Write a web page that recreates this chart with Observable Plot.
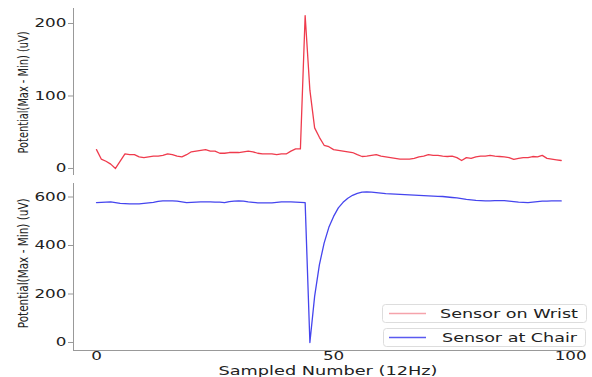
<!DOCTYPE html>
<html><head><meta charset="utf-8">
<script src="https://cdn.jsdelivr.net/npm/d3@7"></script>
<script src="https://cdn.jsdelivr.net/npm/@observablehq/plot@0.6"></script>
<style>
body{margin:0;background:#fff;}
#wrap{position:relative;width:592px;height:377px;background:#fff;}
#wrap svg{display:block;}
</style></head><body><div id="wrap"></div>
<script>
const wristValues = [26,13,10,6,0,10,20,19,19,16,15,16,17,17,18,20,19,17,16,19,
  23,24,25,26,24,24,21,21,22,22,22,23,24,23,21,20,20,20,19,20,
  20,24,27,27,211,108,56,43,32,30,26,25,24,23,22,19,16.5,17,18,19,
  17,16,15,14,13,13,13,14,16,17,19,18,18,17,16.5,17,15,11,15,14,
  16,17,17,18,17,16.5,16,15,12.5,14,15,15,16.5,16,18,14,13,12,11];
const chairValues = [577,578,579,580,577,574,573,572,572,572,574,576,578,582,584,584,584,583,580,577,
  578,579,580,580,580,579,579,577,581,583,584,583,580,578,576,576,576,576,578,580,
  580,580,579,578,577,0,190,320,410,475,520,555,578,595,607,615,620,621,620,618,
  616,614,613,612,611,610,609,608,607,606,605,604,603,602,600,598,596,593,590,588,
  586,585,584,584,585,585,585,583,581,579,578,577,579,581,583,583,584,584,584];
const wristTicks = [0,100,200];
const chairTicks = [0,200,400,600];
const xTicks = [0,50,100];
const seriesNames = ["Sensor on Wrist","Sensor at Chair"];
const seriesColors = ["#ef3b4d","#4545ee"];
const legendColors = ["#f5a3ab","#5a5af0"];
const xLabel = "Sampled Number (12Hz)";
const yLabel = "Potential(Max - Min) (uV)";

const xDomain = [-4.85, 102.7];
const common = {
  width: 592, marginLeft: 73, marginRight: 9,
  style: {fontFamily: "DejaVu Sans", fontSize: "11.6px", color: "#222", background: "white", overflow: "visible"}
};

const topPlot = Plot.plot({
  ...common, height: 178, marginTop: 8, marginBottom: 3,
  x: {domain: xDomain, axis: null},
  y: {domain: [-9.7, 220.7]},
  marks: [
    Plot.ruleX([xDomain[0]], {stroke: "#999"}),
    Plot.axisY(wristTicks, {tickSize: 5, tickPadding: 2, stroke: "#999", label: null}),
    Plot.line(wristValues, {x: (d, i) => i, y: d => d, stroke: seriesColors[0], strokeWidth: 1.3})
  ]
});

const bottomPlot = Plot.plot({
  ...common, height: 199, marginTop: 5, marginBottom: 27,
  x: {domain: xDomain},
  y: {domain: [-33, 655.7]},
  marks: [
    Plot.ruleX([xDomain[0]], {stroke: "#999"}),
    Plot.ruleY([-33], {stroke: "#999"}),
    Plot.axisY(chairTicks, {tickSize: 5, tickPadding: 2, stroke: "#999", label: null}),
    Plot.axisX(xTicks, {tickSize: 0, tickPadding: 1, label: null}),
    Plot.line(chairValues, {x: (d, i) => i, y: d => d, stroke: seriesColors[1], strokeWidth: 1.3})
  ]
});

function stretch(svg, sx) {
  svg.querySelectorAll('g[aria-label$="tick label"] text').forEach(t => {
    const tr = t.getAttribute("transform");
    const x = +(t.getAttribute("x") || 0);
    if (tr) t.setAttribute("transform", tr + ` scale(${sx},1)`);
    else t.setAttribute("transform", `translate(${x},0) scale(${sx},1) translate(${-x},0)`);
  });
}
stretch(topPlot, 1.45);
stretch(bottomPlot, 1.45);

function yLab(svg, cy, len) {
  d3.select(svg).append("text")
    .attr("transform", `translate(23,${cy}) rotate(-90) scale(1,1.3)`)
    .attr("text-anchor", "middle").attr("dy", "0.35em")
    .attr("font-size", 11.5).attr("fill", "#222")
    .attr("textLength", len).attr("lengthAdjust", "spacingAndGlyphs")
    .text(yLabel);
}
yLab(topPlot, 92.5, 122);
yLab(bottomPlot, 85.3, 130);

d3.select(bottomPlot).append("text")
  .attr("x", 328).attr("y", 192).attr("dy", "0.35em")
  .attr("text-anchor", "middle").attr("font-size", 13).attr("fill", "#222")
  .attr("textLength", 219).attr("lengthAdjust", "spacingAndGlyphs")
  .text(xLabel);

const wrap = document.getElementById("wrap");
wrap.appendChild(topPlot);
wrap.appendChild(bottomPlot);

// legend overlay
const leg = d3.select(wrap).append("svg")
  .attr("width", 592).attr("height", 377)
  .style("position", "absolute").style("left", "0px").style("top", "0px")
  .style("font-family", "DejaVu Sans");
const boxes = [
  {x: 382, y: 304, w: 204, h: 18, tx: 440, tl: 138},
  {x: 383, y: 328, w: 202, h: 18, tx: 442, tl: 135}
];
boxes.forEach((b, i) => {
  leg.append("rect").attr("x", b.x + 0.5).attr("y", b.y + 0.5).attr("width", b.w).attr("height", b.h)
    .attr("rx", 3).attr("fill", "white").attr("fill-opacity", 0.85).attr("stroke", "#ddd");
  const cy = b.y + b.h / 2 + 0.5;
  leg.append("line").attr("x1", 389).attr("x2", 426).attr("y1", cy).attr("y2", cy)
    .attr("stroke", legendColors[i]).attr("stroke-width", 1.5);
  leg.append("text").attr("x", b.tx).attr("y", cy).attr("dy", "0.35em")
    .attr("font-size", 12.5).attr("fill", "#222")
    .attr("textLength", b.tl).attr("lengthAdjust", "spacingAndGlyphs")
    .text(seriesNames[i]);
});
</script></body></html>
